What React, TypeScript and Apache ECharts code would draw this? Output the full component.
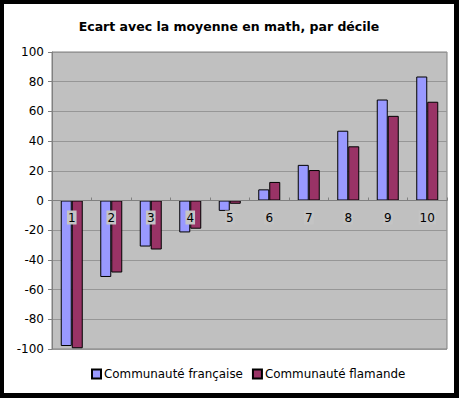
import React, { useEffect, useRef } from "react";
import * as echarts from "echarts";

const categories = ["1", "2", "3", "4", "5", "6", "7", "8", "9", "10"];
const francaise = [-98, -51.5, -31, -21.5, -7, 7.5, 24, 47, 68, 83.5];
const flamande = [-99.5, -48.5, -33, -19, -2.2, 12.5, 20.5, 36.5, 57, 66.5];
const yTicks = { min: -100, max: 100, interval: 20 };

const FONT = "DejaVu Sans";

export default function App() {
  const ref = useRef<HTMLDivElement>(null);
  useEffect(() => {
    document.body.style.margin = "0";
    const chart = echarts.init(ref.current!, null, { renderer: "svg" });
    const plotHeight = 389 - 48 - 44;
    chart.setOption({
      animation: false,
      backgroundColor: "#ffffff",
      textStyle: { fontFamily: FONT },
      title: {
        text: "Ecart avec la moyenne en math, par décile",
        left: "center",
        top: 11,
        textStyle: { fontFamily: FONT, fontSize: 12.5, fontWeight: "bold", color: "#000" },
      },
      legend: {
        bottom: 8,
        left: 82,
        itemWidth: 9,
        itemHeight: 9,
        itemGap: 9,
        icon: "rect",
        textStyle: { fontFamily: FONT, fontSize: 11.9, color: "#000", padding: [0, 0, 0, -2] },
        data: ["Communauté française", "Communauté flamande"],
      },
      grid: {
        left: 48,
        right: 7,
        top: 48,
        bottom: 44,
        show: true,
        backgroundColor: "#c0c0c0",
        borderColor: "#808080",
        borderWidth: 1,
      },
      xAxis: {
        type: "category",
        data: categories,
        offset: -plotHeight / 2,
        axisLine: { onZero: false, lineStyle: { color: "#808080" } },
        axisTick: { show: true, inside: true, length: 3, lineStyle: { color: "#808080" } },
        axisLabel: {
          margin: 10,
          color: "#000",
          fontFamily: FONT,
          fontSize: 12,
          backgroundColor: "#c4c4c4",
          padding: [1, 1, 1, 1],
        },
        z: 10,
      },
      yAxis: {
        type: "value",
        min: yTicks.min,
        max: yTicks.max,
        interval: yTicks.interval,
        axisLine: { show: true, lineStyle: { color: "#808080" } },
        axisTick: { show: true, length: 4, lineStyle: { color: "#808080" } },
        axisLabel: { color: "#000", fontFamily: FONT, fontSize: 12, margin: 8 },
        splitLine: { show: true, lineStyle: { color: "#969696" } },
      },
      series: [
        {
          name: "Communauté française",
          type: "bar",
          data: francaise,
          barWidth: 11,
          barGap: "0%",
          itemStyle: { color: "#9999ff", borderColor: "#000", borderWidth: 1 },
        },
        {
          name: "Communauté flamande",
          type: "bar",
          data: flamande,
          barWidth: 11,
          barGap: "0%",
          itemStyle: { color: "#993366", borderColor: "#000", borderWidth: 1 },
        },
      ],
    });
    return () => chart.dispose();
  }, []);
  return (
    <div style={{ position: "fixed", left: 0, top: 0, width: 459, height: 398, background: "#000" }}>
      <div ref={ref} style={{ position: "absolute", left: 4, top: 4, width: 450, height: 389 }} />
    </div>
  );
}
